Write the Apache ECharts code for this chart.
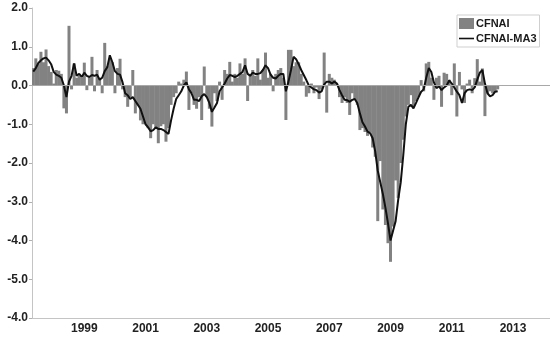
<!DOCTYPE html>
<html>
<head>
<meta charset="utf-8">
<script src="https://cdn.jsdelivr.net/npm/echarts@6/dist/echarts.min.js"></script>
<style>html,body{margin:0;padding:0;background:#fff}#c{width:550px;height:337px}</style>
</head>
<body>
<div id="c"></div>
<script>
// Monthly categories: May 1997 .. Mar 2014
var startYear = 1997, startMonth = 5, monthCount = 203;
var seriesNames = ['CFNAI', 'CFNAI-MA3'];
// y tick labels from bottom (-6) to top (2), as printed on the reference
var yTickLabels = ['-4.0','-5.0','-4.0','-3.0','-2.0','-1.0','0.0','1.0','2.0'];

var cfnai = [
 0.45,0.70,0.55,0.87,0.60,0.93,0.50,0.35,0.05,0.40,
 0.38,0.30,-0.59,-0.72,1.54,-0.10,0.57,0.20,0.25,0.20,
 0.59,-0.12,0.20,0.74,-0.15,0.40,0.20,-0.20,1.10,0.50,
 0.70,0.60,-0.20,0.45,0.69,-0.10,-0.30,-0.55,-0.30,0.40,
 -0.72,-0.50,-0.90,-1.00,-1.00,-1.10,-1.36,-1.00,-1.10,-1.49,
 -1.05,-1.00,-1.45,-1.10,-0.50,-0.30,-0.20,0.10,0.05,0.15,
 0.36,-0.63,-0.20,-0.50,-0.60,-0.30,-0.89,0.49,-0.30,-0.60,
 -1.06,-0.20,-0.40,0.10,-0.37,0.40,0.30,0.61,0.10,0.30,
 0.20,0.57,0.30,0.70,-0.40,0.30,0.40,0.25,0.70,0.15,
 0.40,0.85,0.20,0.30,-0.15,0.30,0.40,0.45,0.20,-0.89,
 0.92,0.92,0.50,0.60,0.60,0.30,0.10,-0.29,-0.20,0.05,
 -0.20,-0.05,-0.35,-0.10,0.85,-0.70,0.30,0.20,0.15,0.05,
 -0.30,-0.45,-0.30,-0.45,-0.76,-0.20,-0.35,-0.50,-1.15,-1.10,
 -1.20,-1.30,-1.20,-1.60,-1.84,-3.50,-1.95,-3.20,-3.60,-4.07,
 -4.55,-3.64,-2.45,-2.90,-2.00,-1.40,-0.80,-0.50,-0.25,-0.55,
 -0.40,-0.30,0.14,-0.15,0.57,0.61,0.20,-0.37,0.20,0.25,
 -0.55,0.33,0.30,0.15,-0.25,0.57,-0.80,0.35,-0.10,-0.45,
 0.05,0.15,-0.20,0.19,0.68,0.10,0.44,-0.79,-0.20,-0.15,
 -0.20,-0.15,-0.10
];

var cfnaiMA3 = [
 0.36,0.45,0.58,0.65,0.70,0.72,0.65,0.55,0.35,0.28,
 0.25,0.20,0.00,-0.30,0.10,0.25,0.57,0.25,0.30,0.22,
 0.33,0.25,0.22,0.27,0.25,0.28,0.15,0.20,0.37,0.47,
 0.78,0.60,0.37,0.30,0.28,0.08,-0.20,-0.25,-0.35,-0.30,
 -0.40,-0.50,-0.60,-0.80,-1.00,-1.08,-1.18,-1.15,-1.08,-1.12,
 -1.12,-1.15,-1.20,-1.25,-0.90,-0.60,-0.35,-0.25,-0.15,0.00,
 0.08,-0.10,-0.20,-0.37,-0.37,-0.40,-0.28,-0.22,-0.30,-0.45,
 -0.68,-0.57,-0.45,-0.15,-0.05,0.05,0.18,0.27,0.25,0.22,
 0.25,0.30,0.35,0.52,0.30,0.25,0.33,0.30,0.30,0.32,
 0.40,0.52,0.45,0.28,0.20,0.18,0.25,0.30,0.30,-0.15,
 0.10,0.40,0.74,0.68,0.55,0.40,0.27,0.14,0.00,-0.05,
 -0.10,-0.12,-0.18,-0.15,0.03,0.10,0.10,0.05,0.10,0.05,
 -0.12,-0.25,-0.37,-0.38,-0.42,-0.37,-0.35,-0.46,-0.72,-0.95,
 -1.06,-1.19,-1.23,-1.36,-1.70,-2.20,-2.50,-2.80,-3.15,-3.55,
 -4.00,-3.75,-3.50,-2.95,-2.50,-1.80,-1.00,-0.55,-0.50,-0.59,
 -0.45,-0.30,-0.16,-0.10,0.20,0.45,0.35,0.08,-0.07,-0.02,
 -0.12,-0.05,0.00,0.13,0.05,-0.05,-0.16,-0.25,-0.45,-0.20,
 -0.12,-0.10,-0.12,-0.05,0.15,0.33,0.40,0.05,-0.20,-0.28,
 -0.25,-0.16,-0.15
];

var categories = [];
for (var i = 0; i < monthCount; i++) {
  var m = startMonth - 1 + i;
  var y = startYear + Math.floor(m / 12);
  var mm = (m % 12) + 1;
  categories.push(y + '-' + (mm < 10 ? '0' + mm : '' + mm));
}

var fontFam = '"Liberation Sans", Arial, sans-serif';
var chart = echarts.init(document.getElementById('c'), null, {renderer: 'canvas'});
chart.setOption({
  animation: false,
  backgroundColor: '#fff',
  grid: {left: 32, right: 0, top: 8, bottom: 19, containLabel: false},
  legend: {
    orient: 'vertical',
    left: 457, top: 15,
    padding: [3, 3, 3, 2],
    itemGap: 4,
    itemWidth: 15, itemHeight: 11,
    borderColor: '#cfcfcf', borderWidth: 1,
    backgroundColor: '#fff',
    textStyle: {fontFamily: fontFam, fontWeight: 'bold', fontSize: 11, color: '#1a1a1a', padding: [0,0,0,-3]},
    data: [
      {name: seriesNames[0], icon: 'rect'},
      {name: seriesNames[1], icon: 'path://M0,0H15V1.6H0Z', symbolKeepAspect: true}
    ]
  },
  xAxis: [{
    type: 'category',
    data: categories,
    boundaryGap: true,
    axisLine: {onZero: false, lineStyle: {color: '#c4c4c4', width: 1}},
    axisTick: {
      inside: true, length: 5,
      lineStyle: {color: '#b0b0b0'},
      interval: function (idx, val) { return val.slice(5) === '01'; }
    },
    axisLabel: {
      interval: function (idx, val) { return val.slice(5) === '01' && (+val.slice(0,4)) % 2 === 1; },
      formatter: function (val) { return val.slice(0, 4); },
      fontFamily: fontFam, fontWeight: 'bold', fontSize: 12, color: '#222', margin: 5
    },
    splitLine: {show: false}
  }, {
    type: 'category',
    data: categories,
    position: 'bottom',
    boundaryGap: true,
    axisLine: {show: false, onZero: false},
    axisTick: {
      inside: true, length: 3,
      lineStyle: {color: '#b0b0b0'},
      interval: function (idx, val) { return val.slice(5) === '07'; }
    },
    axisLabel: {show: false},
    splitLine: {show: false}
  }],
  yAxis: {
    type: 'value',
    min: -6, max: 2, interval: 1,
    axisLine: {show: true, lineStyle: {color: '#c4c4c4', width: 1}},
    axisTick: {show: true, length: 3, lineStyle: {color: '#b0b0b0'}},
    axisLabel: {
      formatter: function (v) { return yTickLabels[Math.round(v + 6)]; },
      fontFamily: fontFam, fontWeight: 'bold', fontSize: 12, color: '#222', margin: 4
    },
    splitLine: {show: false}
  },
  series: [{
    name: seriesNames[0],
    type: 'bar',
    data: cfnai,
    barWidth: 3,
    itemStyle: {color: '#828282'},
    markLine: {
      silent: true, symbol: 'none', label: {show: false},
      lineStyle: {color: '#a8a8a8', width: 1, type: 'solid'},
      data: [{yAxis: 0}]
    },
    z: 2
  }, {
    name: seriesNames[1],
    type: 'line',
    data: cfnaiMA3,
    symbol: 'none',
    showSymbol: false,
    lineStyle: {color: '#111', width: 2},
    itemStyle: {color: '#111'},
    z: 3
  }]
});
</script>
</body>
</html>
